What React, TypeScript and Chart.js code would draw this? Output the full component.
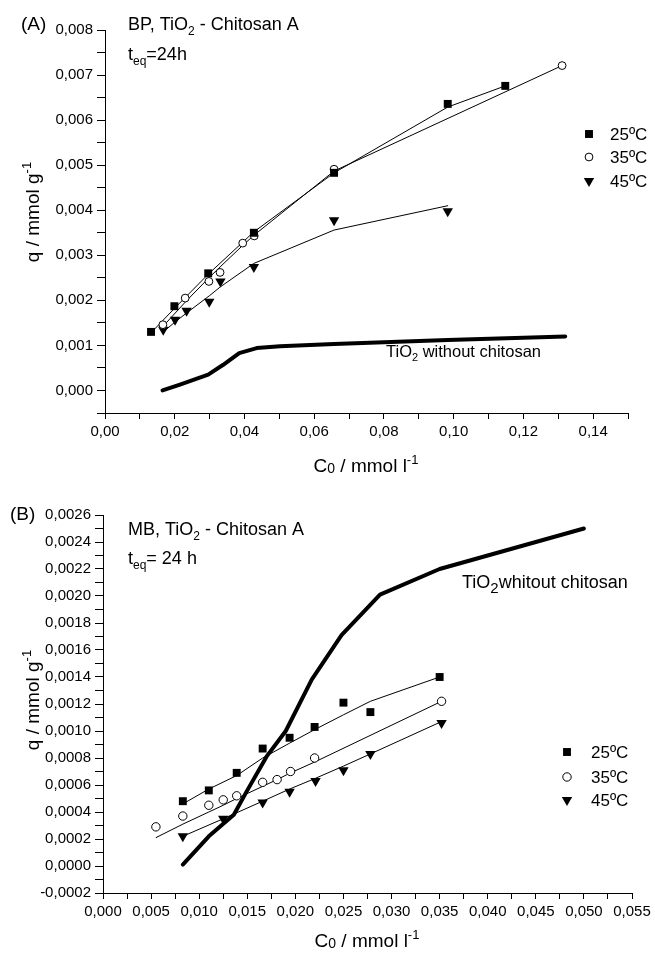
import React, { useEffect, useRef } from 'react';
import { Chart, registerables } from 'chart.js';

Chart.register(...registerables);

const FONT = '"Liberation Sans", Arial, Helvetica, sans-serif';

// ---------- Panel A: BP ----------
const A_X25 = [0.0132, 0.0199, 0.0296, 0.0427, 0.0657, 0.0983, 0.1148];
const A_Y25 = [0.0013, 0.00187, 0.0026, 0.0035, 0.00483, 0.00636, 0.00676];
const A_FIT25 = [0.00128, 0.00182, 0.00258, 0.00352, 0.00483, 0.00629, 0.00676];

const A_X35 = [0.0166, 0.023, 0.0298, 0.033, 0.0395, 0.0428, 0.0657, 0.1311];
const A_Y35 = [0.00146, 0.00205, 0.00242, 0.00262, 0.00327, 0.00343, 0.00491, 0.00721];
const A_FIT35 = [0.00142, 0.00196, 0.0025, 0.00274, 0.00322, 0.00345, 0.00487, 0.00721];

const A_X45 = [0.0167, 0.0201, 0.0234, 0.0299, 0.0331, 0.0427, 0.0657, 0.0983];
const A_Y45 = [0.00135, 0.00157, 0.00177, 0.00197, 0.00242, 0.00274, 0.00378, 0.00398];
const A_FIT45 = [0.0013, 0.00152, 0.00172, 0.0021, 0.0023, 0.00282, 0.00356, 0.0041];

const A_XTIO2 = [0.0165, 0.0215, 0.0296, 0.0339, 0.0385, 0.0435, 0.0502, 0.0657, 0.0983, 0.132];
const A_YTIO2 = [0.0, 0.00013, 0.00035, 0.00057, 0.00083, 0.00094, 0.00098, 0.00103, 0.00112, 0.0012];

// ---------- Panel B: MB ----------
const B_X25 = [0.0083, 0.011, 0.0139, 0.0166, 0.0194, 0.022, 0.025, 0.0278, 0.035];
const B_Y25 = [0.00048, 0.00056, 0.00069, 0.00087, 0.00095, 0.00103, 0.00121, 0.00114, 0.0014];
const B_FIT25 = [0.00046, 0.00057, 0.00067, 0.0008, 0.00091, 0.00101, 0.00112, 0.00122, 0.0014];

const B_X35 = [0.0055, 0.0083, 0.011, 0.0125, 0.0139, 0.0166, 0.0181, 0.0195, 0.022, 0.0352];
const B_Y35 = [0.00029, 0.00037, 0.00045, 0.00049, 0.00052, 0.00062, 0.00064, 0.0007, 0.0008, 0.00122];
const B_FIT35 = [0.00021, 0.00031, 0.0004, 0.00045, 0.0005, 0.00059, 0.00064, 0.00069, 0.00077, 0.00122];

const B_X45 = [0.0083, 0.0125, 0.0166, 0.0194, 0.0221, 0.025, 0.0278, 0.0352];
const B_Y45 = [0.00022, 0.00035, 0.00047, 0.00055, 0.00063, 0.00071, 0.00083, 0.00106];
const B_FIT45 = [0.00022, 0.00035, 0.00048, 0.00057, 0.00065, 0.00074, 0.00083, 0.00107];

const B_XTIO2 = [0.0083, 0.011, 0.0136, 0.015, 0.017, 0.019, 0.0217, 0.0248, 0.0288, 0.035, 0.05];
const B_YTIO2 = [0.00001, 0.00022, 0.00038, 0.00056, 0.00081, 0.001, 0.00138, 0.00171, 0.00201, 0.0022, 0.0025];

const LEGEND_LABELS = ['25ºC', '35ºC', '45ºC'];

type Seg = [string, number, number?];

function rich(ctx: CanvasRenderingContext2D, segs: Seg[], x: number, y: number, align: 'left' | 'center' = 'left') {
  ctx.fillStyle = '#000';
  ctx.textBaseline = 'alphabetic';
  ctx.textAlign = 'left';
  const widths = segs.map(([t, s]) => {
    ctx.font = `${s}px ${FONT}`;
    return ctx.measureText(t).width;
  });
  const total = widths.reduce((a, b) => a + b, 0);
  let cx = align === 'center' ? x - total / 2 : x;
  segs.forEach(([t, s, dy], i) => {
    ctx.font = `${s}px ${FONT}`;
    ctx.fillText(t, cx, y + (dy || 0));
    cx += widths[i];
  });
}

function marker(ctx: CanvasRenderingContext2D, kind: number, x: number, y: number, r: number) {
  ctx.save();
  ctx.lineWidth = 1;
  ctx.strokeStyle = '#000';
  ctx.fillStyle = '#000';
  ctx.beginPath();
  if (kind === 0) {
    const s = r * Math.SQRT1_2;
    ctx.rect(x - s, y - s, 2 * s, 2 * s);
    ctx.fill();
  } else if (kind === 1) {
    ctx.arc(x, y, r, 0, Math.PI * 2);
    ctx.fillStyle = '#fff';
    ctx.fill();
    ctx.stroke();
  } else {
    const h = r * Math.sqrt(3) / 2;
    ctx.moveTo(x, y + r);
    ctx.lineTo(x - h, y - r / 2);
    ctx.lineTo(x + h, y - r / 2);
    ctx.closePath();
    ctx.fill();
  }
  ctx.restore();
}

const pts = (xs: number[], ys: number[]) => xs.map((x, i) => ({ x, y: ys[i] }));

function markerDs(label: string, xs: number[], ys: number[], style: string, fill: string, radius: number, rotation = 0) {
  return {
    label,
    data: pts(xs, ys),
    showLine: false,
    pointStyle: style,
    pointRadius: radius,
    pointHoverRadius: radius,
    pointRotation: rotation,
    pointBackgroundColor: fill,
    pointBorderColor: '#000',
    pointBorderWidth: style === 'circle' ? 1 : 0,
    backgroundColor: fill,
    borderColor: '#000',
  };
}

function lineDs(label: string, xs: number[], ys: number[], width: number) {
  return {
    label,
    data: pts(xs, ys),
    showLine: true,
    pointRadius: 0,
    pointHoverRadius: 0,
    borderColor: '#000',
    backgroundColor: '#000',
    borderWidth: width,
    fill: false,
    tension: 0,
    borderCapStyle: 'round',
    borderJoinStyle: 'round',
  };
}

function axis(min: number, max: number, step: number, isMajor: (v: number) => boolean, fmt: (v: number) => string, tickLength: number, fit: (s: any) => void) {
  return {
    type: 'linear',
    min,
    max,
    afterFit: fit,
    ticks: {
      stepSize: step,
      autoSkip: false,
      maxRotation: 0,
      minRotation: 0,
      color: '#000',
      padding: 4,
      font: { size: 15, family: FONT },
      callback: (v: any) => (isMajor(Number(v)) ? fmt(Number(v)) : ''),
    },
    grid: { drawOnChartArea: false, drawTicks: true, tickLength, color: '#000', lineWidth: 1 },
    border: { display: true, color: '#000', width: 1 },
    title: { display: false },
  };
}

const comma = (v: number, d: number) => v.toFixed(d).replace('.', ',');

const SQ = 5.6;
const CI = 3.9;
const TR = 6;

function configA(): any {
  return {
    type: 'scatter',
    data: {
      datasets: [
        markerDs('25ºC', A_X25, A_Y25, 'rect', '#000', SQ),
        markerDs('35ºC', A_X35, A_Y35, 'circle', '#fff', CI),
        markerDs('45ºC', A_X45, A_Y45, 'triangle', '#000', TR, 180),
        lineDs('fit25', A_X25, A_FIT25, 1),
        lineDs('fit35', A_X35, A_FIT35, 1),
        lineDs('fit45', A_X45, A_FIT45, 1),
        lineDs('TiO2', A_XTIO2, A_YTIO2, 4),
      ],
    },
    options: {
      responsive: false,
      animation: false,
      devicePixelRatio: 1,
      layout: { padding: { top: 30, right: 27, left: 0, bottom: 0 } },
      plugins: { legend: { display: false }, tooltip: { enabled: false } },
      scales: {
        x: axis(0, 0.15, 0.01, (v) => Math.round(v * 100) % 2 === 0, (v) => comma(v, 2), 6, (s) => { s.height = 62; }),
        y: axis(-0.0005, 0.008, 0.0005, (v) => Math.round(v * 2000) % 2 === 0, (v) => comma(v, 3), 8, (s) => { s.width = 105; }),
      },
    },
    plugins: [
      {
        id: 'decorA',
        afterDraw(chart: any) {
          const ctx = chart.ctx as CanvasRenderingContext2D;
          ctx.save();
          rich(ctx, [['(A)', 19]], 21, 30);
          rich(ctx, [['BP, TiO', 18], ['2', 12, 5], [' - Chitosan A', 18]], 128, 29.5);
          rich(ctx, [['t', 18], ['eq', 12, 5], ['=24h', 18]], 128, 59.5);
          rich(ctx, [['TiO', 16.5], ['2', 11, 4], [' without chitosan', 16.5]], 386, 357);
          rich(ctx, [['C', 19], ['0', 14, 1], [' / mmol l', 19], ['-1', 13, -8]], 366, 472, 'center');
          ctx.save();
          ctx.translate(39, 212);
          ctx.rotate(-Math.PI / 2);
          rich(ctx, [['q / mmol g', 19], ['-1', 13, -8]], 0, 0, 'center');
          ctx.restore();
          const ly = [134, 157, 181];
          const rs = [SQ, CI, TR];
          LEGEND_LABELS.forEach((lab, i) => {
            marker(ctx, i, 589, ly[i], rs[i]);
            rich(ctx, [[lab, 17]], 610, ly[i] + 6);
          });
          ctx.restore();
        },
      },
    ],
  };
}

function configB(): any {
  return {
    type: 'scatter',
    data: {
      datasets: [
        markerDs('25ºC', B_X25, B_Y25, 'rect', '#000', SQ),
        markerDs('35ºC', B_X35, B_Y35, 'circle', '#fff', 4.2),
        markerDs('45ºC', B_X45, B_Y45, 'triangle', '#000', TR, 180),
        lineDs('fit25', B_X25, B_FIT25, 1),
        lineDs('fit35', B_X35, B_FIT35, 1),
        lineDs('fit45', B_X45, B_FIT45, 1),
        lineDs('TiO2', B_XTIO2, B_YTIO2, 4),
      ],
    },
    options: {
      responsive: false,
      animation: false,
      devicePixelRatio: 1,
      layout: { padding: { top: 40, right: 23, left: 0, bottom: 0 } },
      plugins: { legend: { display: false }, tooltip: { enabled: false } },
      scales: {
        x: axis(0, 0.055, 0.0025, (v) => Math.round(v * 400) % 2 === 0, (v) => comma(v, 3), 6, (s) => { s.height = 63; }),
        y: axis(-0.0002, 0.0026, 0.0001, (v) => Math.round(v * 10000) % 2 === 0, (v) => comma(v, 4), 8, (s) => { s.width = 103; }),
      },
    },
    plugins: [
      {
        id: 'decorB',
        afterDraw(chart: any) {
          const ctx = chart.ctx as CanvasRenderingContext2D;
          ctx.save();
          rich(ctx, [['(B)', 19]], 10, 45);
          rich(ctx, [['MB, TiO', 18], ['2', 12, 5], [' - Chitosan A', 18]], 128, 59.5);
          rich(ctx, [['t', 18], ['eq', 12, 5], ['= 24 h', 18]], 128, 88.5);
          rich(ctx, [['TiO', 18], ['2', 15, 5], ['whitout chitosan', 18]], 462, 112.5);
          rich(ctx, [['C', 19], ['0', 14, 1], [' / mmol l', 19], ['-1', 13, -8]], 367, 472, 'center');
          ctx.save();
          ctx.translate(39, 225);
          ctx.rotate(-Math.PI / 2);
          rich(ctx, [['q / mmol g', 19], ['-1', 13, -8]], 0, 0, 'center');
          ctx.restore();
          const ly = [277, 302, 325];
          const rs = [SQ, 4.2, TR];
          LEGEND_LABELS.forEach((lab, i) => {
            marker(ctx, i, 567, ly[i], rs[i]);
            rich(ctx, [[lab, 17]], 591, ly[i] + 6);
          });
          ctx.restore();
        },
      },
    ],
  };
}

function Panel({ make, top, height }: { make: () => any; top: number; height: number }) {
  const ref = useRef<HTMLCanvasElement>(null);
  useEffect(() => {
    Chart.defaults.font.family = FONT;
    Chart.defaults.color = '#000';
    const chart = new Chart(ref.current as HTMLCanvasElement, make());
    return () => chart.destroy();
  }, []);
  return (
    <div style={{ position: 'absolute', left: 0, top, width: 655, height }}>
      <canvas ref={ref} width={655} height={height} style={{ display: 'block', width: 655, height }} />
    </div>
  );
}

export default function App() {
  return (
    <div style={{ position: 'absolute', left: 0, top: 0, width: 655, height: 956, background: '#fff' }}>
      <Panel make={configA} top={0} height={475} />
      <Panel make={configB} top={475} height={481} />
    </div>
  );
}
